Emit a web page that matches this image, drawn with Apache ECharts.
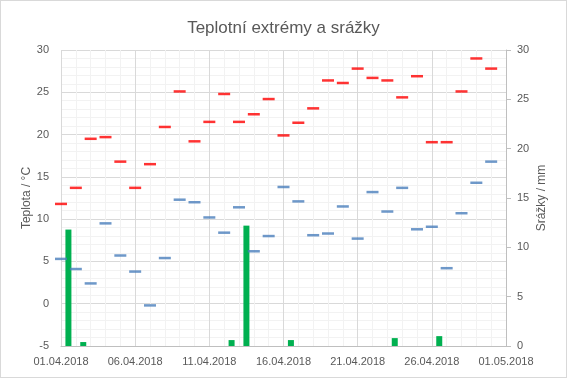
<!DOCTYPE html>
<html>
<head>
<meta charset="utf-8">
<script src="https://cdn.jsdelivr.net/npm/echarts@6/dist/echarts.min.js"></script>
<style>
  * { margin: 0; padding: 0; }
  #chart { width: 567px; height: 378px; box-sizing: border-box; border: 1px solid #d9d9d9; background: #fff; }
</style>
</head>
<body>
<div id="chart"></div>
<script>
  // dny 01.04. - 30.04.2018
  const days = ['01.04.2018', '02.04.2018', '03.04.2018', '04.04.2018', '05.04.2018', '06.04.2018',
    '07.04.2018', '08.04.2018', '09.04.2018', '10.04.2018', '11.04.2018', '12.04.2018', '13.04.2018',
    '14.04.2018', '15.04.2018', '16.04.2018', '17.04.2018', '18.04.2018', '19.04.2018', '20.04.2018',
    '21.04.2018', '22.04.2018', '23.04.2018', '24.04.2018', '25.04.2018', '26.04.2018', '27.04.2018',
    '28.04.2018', '29.04.2018', '30.04.2018'];
  const tmax = [11.8, 13.7, 19.5, 19.7, 16.8, 13.7, 16.5, 20.9, 25.1, 19.2, 21.5, 24.8, 21.5, 22.4, 24.2,
    19.9, 21.4, 23.1, 26.4, 26.1, 27.8, 26.7, 26.4, 24.4, 26.9, 19.1, 19.1, 25.1, 29.0, 27.8];
  const tmin = [5.3, 4.1, 2.4, 9.5, 5.7, 3.8, -0.2, 5.4, 12.3, 12.0, 10.2, 8.4, 11.4, 6.2, 8.0,
    13.8, 12.1, 8.1, 8.3, 11.5, 7.7, 13.2, 10.9, 13.7, 8.8, 9.1, 4.2, 10.7, 14.3, 16.8];
  const rain = [11.8, 0.4, 0, 0, 0, 0, 0, 0, 0, 0, 0, 0.6, 12.2, 0, 0, 0.6, 0, 0, 0, 0,
    0, 0, 0.8, 0, 0, 1.0, 0, 0, 0, 0];
  // popisky osy x (po 5 dnech)
  const xTicks = ['01.04.2018', '06.04.2018', '11.04.2018', '16.04.2018', '21.04.2018', '26.04.2018', '01.05.2018'];

  const font = 'Liberation Sans, Arial, sans-serif';
  const txt = '#595959';

  const chart = echarts.init(document.getElementById('chart'));
  chart.setOption({
    animation: false,
    textStyle: { fontFamily: font },
    title: {
      text: 'Teplotní extrémy a srážky',
      left: 'center',
      top: 14,
      textStyle: { fontSize: 17, fontWeight: 'normal', color: txt, fontFamily: font },
    },
    grid: { left: 60, right: 60, top: 49, bottom: 31 },
    xAxis: [
      {
        type: 'value',
        min: 0,
        max: 30,
        interval: 5,
        axisLine: { show: true, onZero: false, lineStyle: { color: '#bfbfbf' } },
        axisTick: { show: false },
        axisLabel: {
          color: txt, fontSize: 11, margin: 10,
          formatter: (v) => xTicks[v / 5],
        },
        splitLine: { show: true, lineStyle: { color: '#d9d9d9' } },
        minorTick: { show: false, splitNumber: 5 },
        minorSplitLine: { show: true, lineStyle: { color: '#f2f2f2' } },
      },
      {
        type: 'category',
        data: days,
        boundaryGap: true,
        show: false,
      },
    ],
    yAxis: [
      {
        type: 'value',
        min: -5,
        max: 30,
        interval: 5,
        name: 'Teplota / °C',
        nameLocation: 'middle',
        nameRotate: 90,
        nameGap: 28,
        nameMoveOverlap: false,
        nameTextStyle: { color: txt, fontSize: 12 },
        axisLine: { show: false },
        axisTick: { show: false },
        axisLabel: { color: txt, fontSize: 11, margin: 12 },
        splitLine: { show: true, lineStyle: { color: '#d9d9d9' } },
        minorTick: { show: false, splitNumber: 5 },
        minorSplitLine: { show: true, lineStyle: { color: '#f2f2f2' } },
      },
      {
        type: 'value',
        min: 0,
        max: 30,
        interval: 5,
        position: 'right',
        name: 'Srážky / mm',
        nameLocation: 'middle',
        nameRotate: 90,
        nameGap: 30,
        nameMoveOverlap: false,
        nameTextStyle: { color: txt, fontSize: 12 },
        axisLine: { show: true, lineStyle: { color: '#bfbfbf' } },
        axisTick: { show: true, length: 5, lineStyle: { color: '#bfbfbf' } },
        axisLabel: { color: txt, fontSize: 11, margin: 11 },
        splitLine: { show: false },
      },
    ],
    series: [
      {
        name: 'srážky',
        type: 'bar',
        xAxisIndex: 1,
        yAxisIndex: 1,
        data: rain,
        barWidth: 6,
        itemStyle: { color: '#00b050' },
        z: 2,
      },
      {
        name: 'max',
        type: 'scatter',
        xAxisIndex: 0,
        yAxisIndex: 0,
        data: tmax.map((v, i) => [i, v]),
        symbol: 'rect',
        symbolSize: [12, 2.5],
        itemStyle: { color: '#ff0000' },
        z: 3,
      },
      {
        name: 'min',
        type: 'scatter',
        xAxisIndex: 0,
        yAxisIndex: 0,
        data: tmin.map((v, i) => [i, v]),
        symbol: 'rect',
        symbolSize: [12, 2.5],
        itemStyle: { color: '#4a7ebb' },
        z: 3,
      },
    ],
  });
</script>
</body>
</html>
